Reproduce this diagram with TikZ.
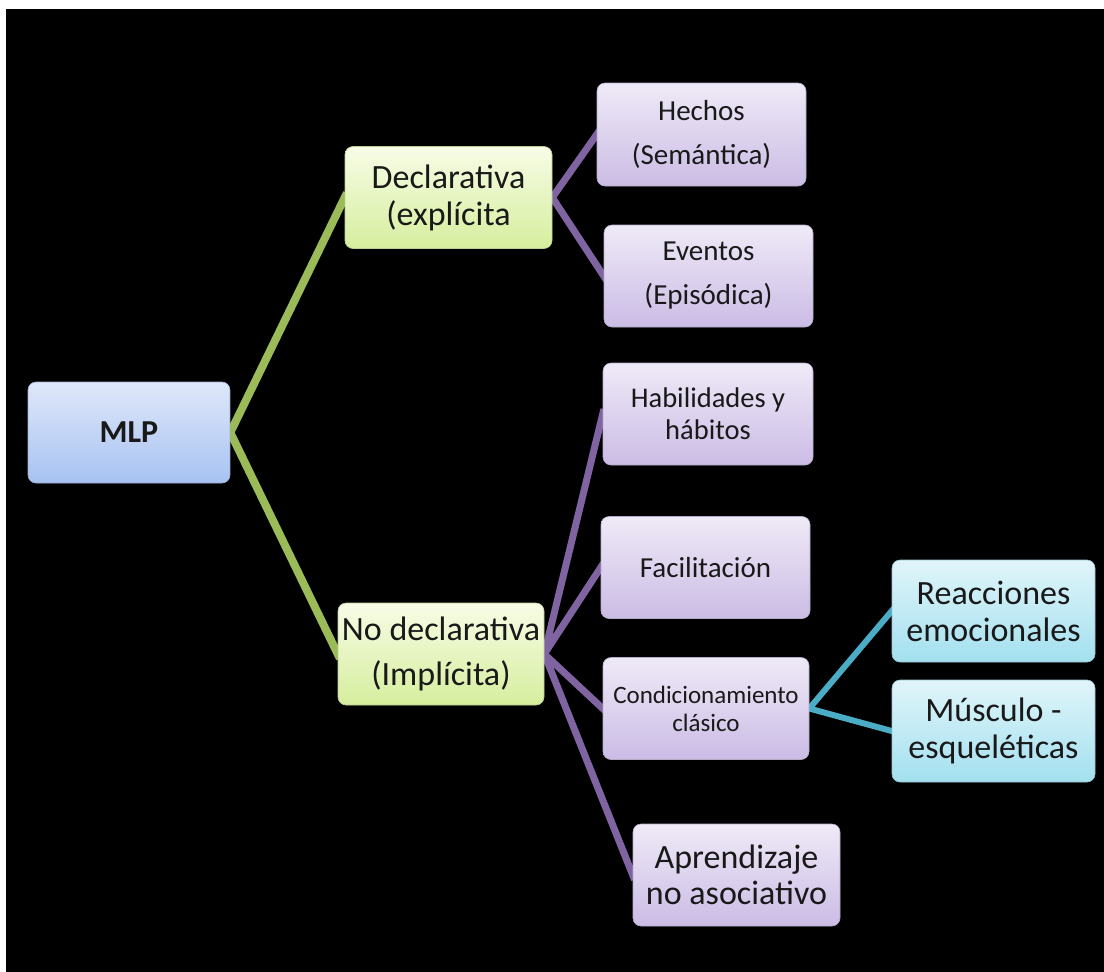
\documentclass[tikz,border=0pt]{standalone}
\usepackage{fontspec}
\setmainfont{Carlito}
\usetikzlibrary{backgrounds}
\definecolor{greenline}{HTML}{9BBB59}
\definecolor{purpleline}{HTML}{8064A2}
\definecolor{cyanline}{HTML}{4BACC6}
\definecolor{bluetop}{HTML}{DFE8FA}
\definecolor{bluebot}{HTML}{A7C2F2}
\definecolor{greentop}{HTML}{F7FCE6}
\definecolor{greenbot}{HTML}{D6EE9E}
\definecolor{purpletop}{HTML}{EFEAF7}
\definecolor{purplebot}{HTML}{CBBCE5}
\definecolor{cyantop}{HTML}{E0F5FA}
\definecolor{cyanbot}{HTML}{A3E0EF}
\begin{document}
\begin{tikzpicture}
		[	x=1pt,y=-1pt,
		box/.style={rectangle,rounded corners=8pt,inner sep=2pt,align=center,
			minimum width=207pt,minimum height=102pt,text=black!90,line width=.6pt},
		rootbox/.style={box,draw=bluebot!70!gray,top color=bluetop,bottom color=bluebot,
			font=\fontsize{32}{36}\selectfont\bfseries},
		midbox/.style={box,draw=greenbot!70!gray,top color=greentop,bottom color=greenbot,
			font=\fontsize{34}{37}\selectfont},
		leafbox/.style={box,draw=purplebot!70!gray,top color=purpletop,bottom color=purplebot,
			font=\fontsize{29}{44}\selectfont},
		subbox/.style={box,draw=cyanbot!70!gray,top color=cyantop,bottom color=cyanbot,
			font=\fontsize{34}{37}\selectfont},
		branch/.style={line width=7pt,shorten <=-5pt,shorten >=-5pt}
		]
		\useasboundingbox (0,0) rectangle (1104,972);

		\node[rootbox,minimum width=202pt,minimum height=101pt] (mlp) at (129,432.5){MLP};

		\node[midbox] (decl) at (448.5,197.5){Declarativa\\(explícita};
		\node[midbox,minimum width=206pt,font=\fontsize{34}{45}\selectfont] (nodecl) at (441,654){No declarativa\\(Implícita)};

		\node[leafbox,minimum width=209pt,minimum height=103pt] (hechos) at (701.5,134.5){Hechos\\(Semántica)};
		\node[leafbox,minimum width=209pt] (eventos) at (708.5,276){Eventos\\(Episódica)};
		\node[leafbox,minimum width=210pt,font=\fontsize{28.5}{32}\selectfont] (habil) at (708,414){Habilidades y\\hábitos};
		\node[leafbox,minimum width=209pt] (facil) at (705.5,567.5){Facilitación};
		\node[leafbox,minimum width=206pt,font=\fontsize{25}{28}\selectfont] (condi) at (706,708.5){Condicionamiento\\clásico};
		\node[leafbox,font=\fontsize{34}{36}\selectfont] (apren) at (736.5,875){Aprendizaje\\no asociativo};

		\node[subbox,minimum width=203pt] (reacc) at (993.5,611){Reacciones\\emocionales};
		\node[subbox,minimum width=203pt] (muscu) at (993.5,731){Músculo -\\esqueléticas};

	\begin{scope}[on background layer]
		\fill[white] (0,0) rectangle (1104,972);
		\fill[black] (6,9) rectangle (1104,972);
		\draw[branch,greenline,line width=8pt] (decl.west) -- (mlp.east) -- (nodecl.west);
		\draw[branch,purpleline] (hechos.west) -- (decl.east) -- (eventos.west);
		\draw[branch,purpleline] (habil.west) -- (nodecl.east) -- (facil.west);
		\draw[branch,purpleline] (condi.west) -- (nodecl.east) -- (apren.west);
		\draw[branch,cyanline,line width=6pt] (reacc.west) -- (condi.east) -- (muscu.west);
	\end{scope}
	\end{tikzpicture}
\end{document}
